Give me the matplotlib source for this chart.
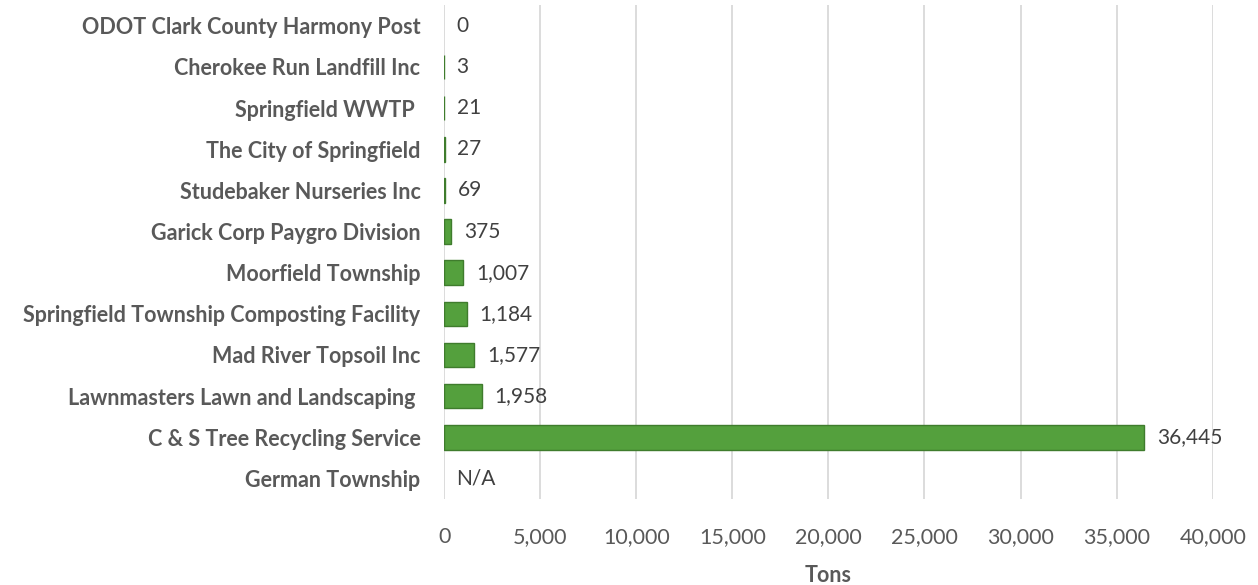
import matplotlib.pyplot as plt
import numpy as np
from matplotlib.ticker import FuncFormatter

# data, bottom to top
facilities = [
    "German Township",
    "C & S Tree Recycling Service",
    "Lawnmasters Lawn and Landscaping ",
    "Mad River Topsoil Inc",
    "Springfield Township Composting Facility",
    "Moorfield Township",
    "Garick Corp Paygro Division",
    "Studebaker Nurseries Inc",
    "The City of Springfield",
    "Springfield WWTP ",
    "Cherokee Run Landfill Inc",
    "ODOT Clark County Harmony Post",
]
tons = [np.nan, 36445, 1958, 1577, 1184, 1007, 375, 69, 27, 21, 3, 0]

plt.rcParams["font.family"] = ["Lato", "DejaVu Sans"]
gray = "#595959"

fig = plt.figure(figsize=(12.58, 5.85), dpi=100)
ax = fig.add_axes([0.353, 0.147, 0.611, 0.844])

y = np.arange(len(facilities))
tons_arr = np.array(tons, dtype=float)
has_bar = ~np.isnan(tons_arr) & (tons_arr > 0)
ax.barh(y[has_bar], tons_arr[has_bar], height=0.6, color="#54a03d",
        edgecolor="#3f7c2d", lw=1, zorder=3)

for yi, v in zip(y, tons_arr):
    txt = "N/A" if np.isnan(v) else f"{int(v):,}"
    x = 0 if np.isnan(v) else v
    ax.annotate(txt, (x, yi), xytext=(9, 0), textcoords="offset points",
                va="center", ha="left", fontsize=15, color="#404040")

ax.set_xlim(0, 40000)
ax.set_ylim(-0.5, len(facilities) - 0.5)
ax.set_xticks(np.arange(0, 40001, 5000))
ax.xaxis.set_major_formatter(FuncFormatter(lambda v, p: f"{int(v):,}"))
ax.set_yticks(y)
ax.set_yticklabels(facilities, fontsize=15.5, fontweight="bold", color=gray)
ax.tick_params(axis="x", labelsize=15.5, colors=gray, length=0, pad=20)
ax.tick_params(axis="y", length=0, pad=17)
ax.grid(axis="x", color="#d9d9d9", lw=1.3, zorder=0)
for s in ax.spines.values():
    s.set_visible(False)

ax.set_xlabel("Tons", fontsize=15.5, fontweight="bold", color=gray, labelpad=13)

fig.savefig("out.png", dpi=100)
